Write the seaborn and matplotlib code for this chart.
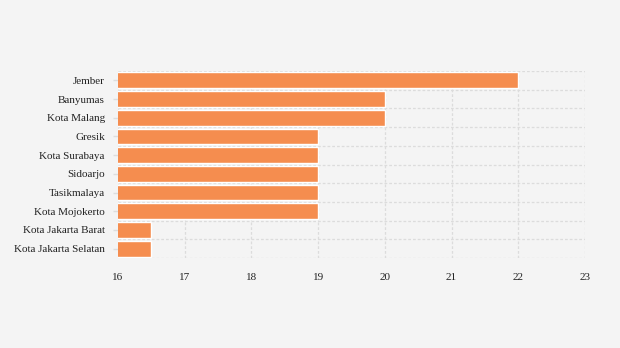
import matplotlib
matplotlib.use("Agg")
import matplotlib.pyplot as plt
import seaborn as sns
import pandas as pd
import numpy as np

cities = ["Jember", "Banyumas", "Kota Malang", "Gresik", "Kota Surabaya",
          "Sidoarjo", "Tasikmalaya", "Kota Mojokerto", "Kota Jakarta Barat",
          "Kota Jakarta Selatan"]
values = [22, 20, 20, 19, 19, 19, 19, 19, 16.5, 16.5]
x_ticks = [16, 17, 18, 19, 20, 21, 22, 23]

df = pd.DataFrame({"city": cities, "value": values})

sns.set_theme(style="white")
plt.rcParams["font.family"] = ["Liberation Serif", "DejaVu Serif"]

bg = "#f4f4f4"
fig = plt.figure(figsize=(6.2, 3.48), dpi=100, facecolor=bg)
ax = fig.add_axes([118 / 620, 1 - 258 / 348, (585 - 118) / 620, (258 - 71) / 348])
ax.set_facecolor(bg)

sns.barplot(data=df, x="value", y="city", orient="h", color="#f58d4f",
            saturation=1, width=0.84, ax=ax, zorder=3)

ax.set_xlim(x_ticks[0], x_ticks[-1])
ax.set_ylim(len(cities) - 0.5, -0.5)
ax.set_xticks(x_ticks)
ax.set_xticklabels([str(t) for t in x_ticks])
ax.set_yticks(range(len(cities)))
ax.set_yticks(np.arange(-0.5, len(cities), 1), minor=True)
ax.set_xlabel("")
ax.set_ylabel("")

grid_kw = dict(color="#dcdcdc", linestyle=(0, (2.2, 1.6)), linewidth=0.9, zorder=1)
ax.grid(axis="x", which="major", **grid_kw)
ax.grid(axis="y", which="minor", **grid_kw)
ax.grid(axis="y", which="major", visible=False)
ax.set_axisbelow(True)
for s in ax.spines.values():
    s.set_visible(False)

ax.tick_params(axis="y", which="major", length=3.5, width=1, color="#dddddd",
               pad=6, labelsize=8.0, labelcolor="#222222", left=True)
ax.tick_params(axis="y", which="minor", length=0)
ax.tick_params(axis="x", which="major", length=0, pad=10.5, labelsize=8.0,
               labelcolor="#222222")

fig.savefig("out.png", dpi=100, facecolor=bg)
